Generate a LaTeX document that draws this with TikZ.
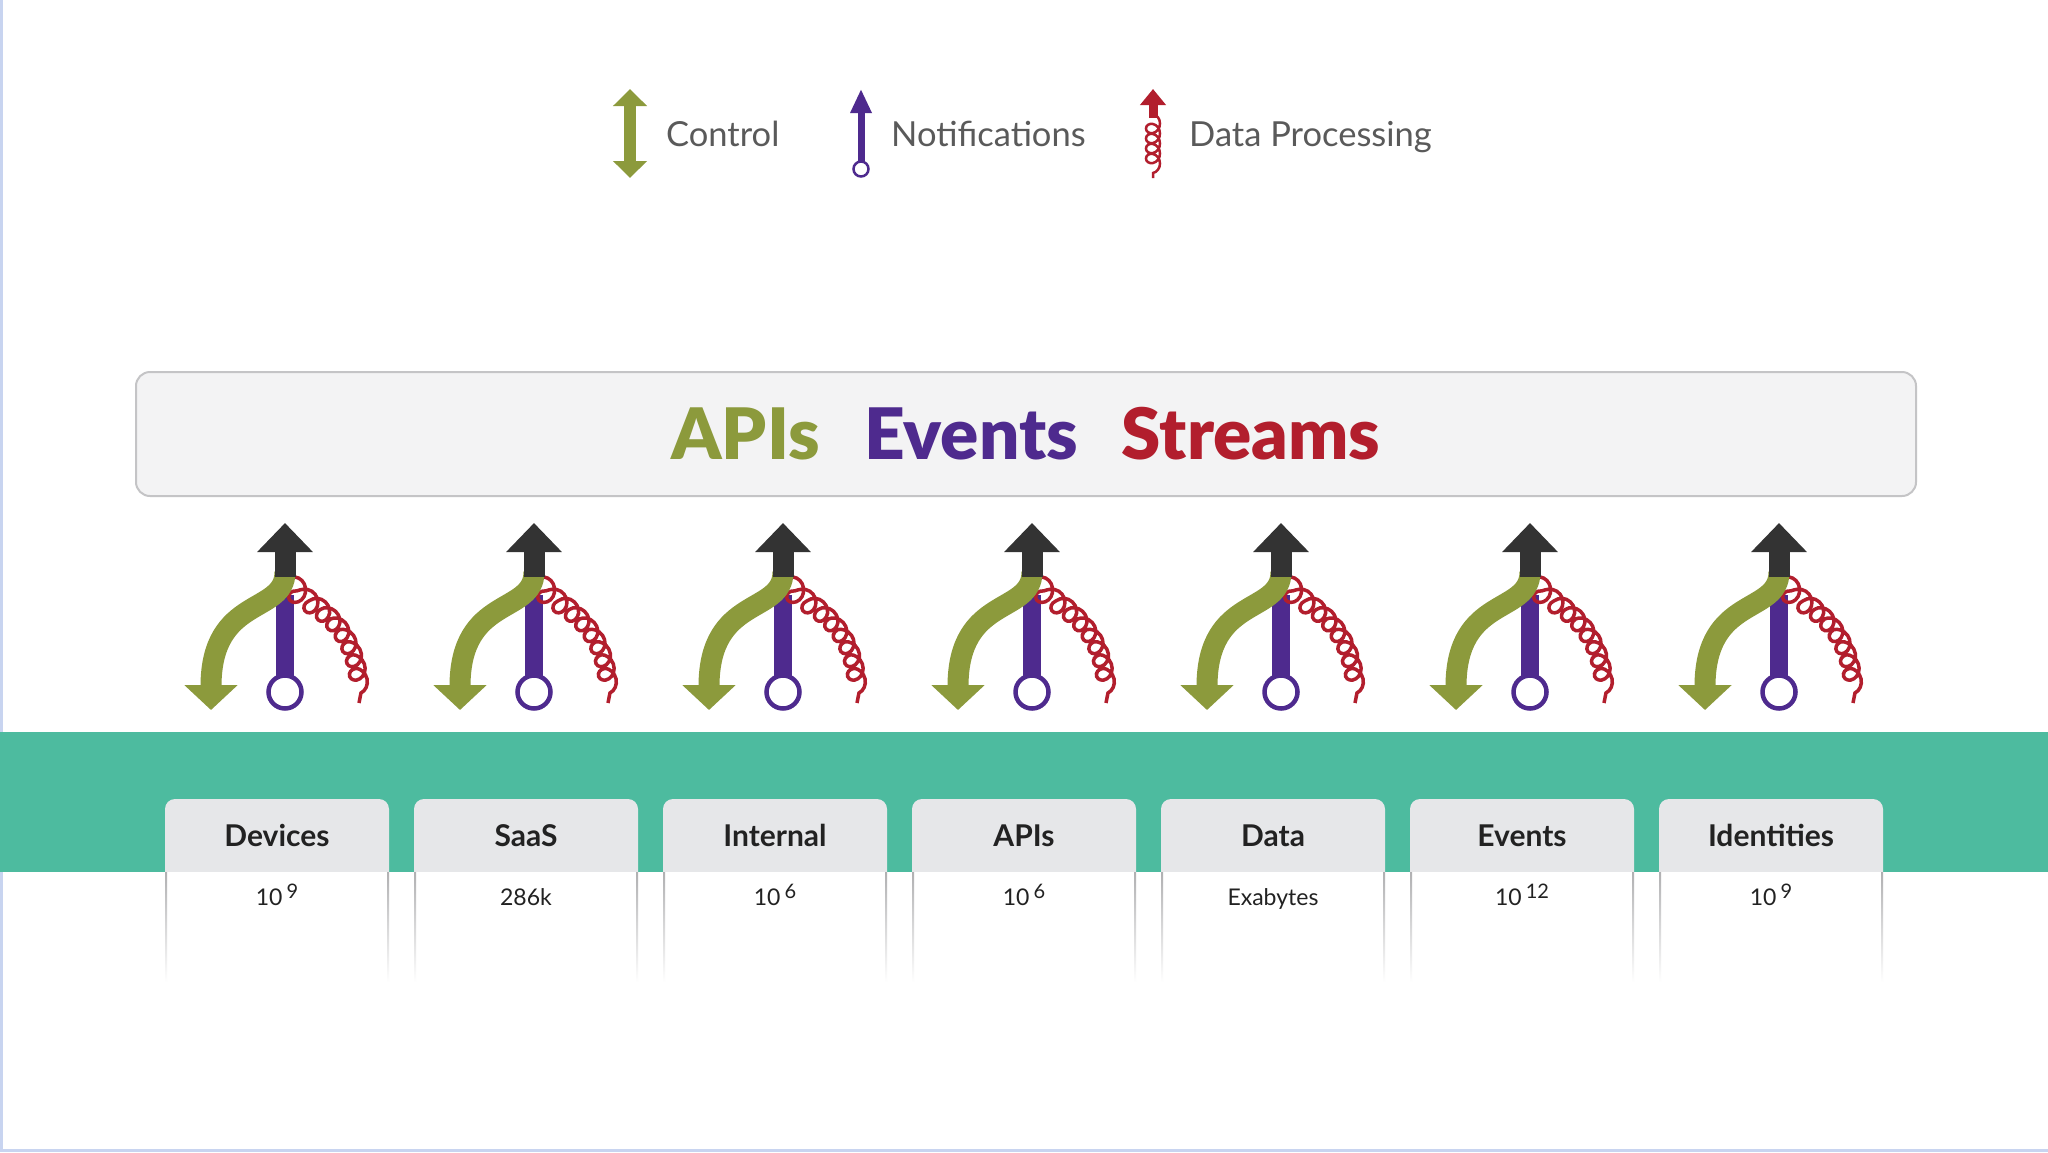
\documentclass[tikz,border=0pt]{standalone}
\usepackage{fontspec}
\setmainfont{Lato}
\newfontfamily\heavyfont{Lato Black}
\usetikzlibrary{positioning, arrows.meta, decorations.pathmorphing}

\definecolor{ctrl}{HTML}{8C9A3C}
\definecolor{notif}{HTML}{4E2A8E}
\definecolor{stream}{HTML}{B21E2D}
\definecolor{hub}{HTML}{333333}
\definecolor{band}{HTML}{4DBB9F}
\definecolor{cardgray}{HTML}{E6E7E9}
\definecolor{panel}{HTML}{F3F3F4}
\definecolor{rim}{HTML}{C4C4C6}
\definecolor{ink}{HTML}{222222}
\definecolor{muted}{HTML}{5A5A5A}
\definecolor{edge}{HTML}{C8D4F0}

\newcommand{\expo}[1]{\hspace{4pt}\raisebox{7pt}{\fontsize{20}{22}\selectfont #1}}

\begin{document}
\begin{tikzpicture}[
  x=1pt, y=-1pt,
  legend/.style={anchor=west, inner sep=0pt, text=muted, text height=24pt, text depth=0pt,
    font=\fontsize{34.5}{40}\selectfont},
  banner/.style={draw=rim, line width=2pt, fill=panel, rounded corners=14pt,
    minimum width=1780pt, minimum height=124pt, inner sep=0pt, text height=51pt, text depth=0pt,
    font=\heavyfont\fontsize{71}{84}\selectfont},
  cardhead/.style={fill=cardgray, rounded corners=10pt, minimum width=224pt, minimum height=83pt,
    inner sep=0pt, text=ink, text height=21pt, text depth=9pt, font=\bfseries\fontsize{30}{36}\selectfont},
  cardbody/.style={fill=white, minimum width=224pt, minimum height=110pt, inner sep=0pt,
    text=ink, text height=17pt, text depth=60pt, font=\fontsize{23}{28}\selectfont,
    path picture={
      \shade[top color=rim!90!black, bottom color=white] (path picture bounding box.north west)
        rectangle ([xshift=2pt]path picture bounding box.south west);
      \shade[top color=rim!90!black, bottom color=white] ([xshift=-2pt]path picture bounding box.north east)
        rectangle (path picture bounding box.south east);
    }},
  coiled/.style={decorate, decoration={coil, amplitude=#1, aspect=1, segment length=14pt}},
  glyph/.pic={
    \draw[notif, line width=18pt] (0,20) -- (0,101);
    \draw[notif, line width=4.5pt, fill=white] (0,117) circle (16.5pt);
    \draw[stream, line width=3.5pt, coiled=9pt] (10,2) .. controls (14,32) and (74,38) .. (74,128);
    \draw[ctrl, line width=21pt, -{Triangle[width=52pt,length=25pt]}] (0,-3) .. controls (0,40) and (-74,20) .. (-74,135);
    \draw[hub, line width=21pt, -{Triangle[width=54pt,length=29pt]}] (0,2) -- (0,-52);
  }
]

\useasboundingbox (0,0) rectangle (2048,1152);
\fill[white] (0,0) rectangle (2048,1152);
\fill[edge] (0,0) rectangle (2.5,1152);
\fill[edge] (0,1149) rectangle (2048,1152);

% legend
\draw[ctrl, line width=12pt, {Triangle[width=33pt,length=17pt]}-{Triangle[width=33pt,length=17pt]}] (630,89) -- (630,178);
\draw[notif, line width=7pt, -{Triangle[width=20pt,length=24pt]}] (861,161) -- (861,89);
\draw[notif, line width=2.5pt, fill=white] (861,169) circle (7.5pt);
\draw[stream, line width=9pt, -{Triangle[width=25pt,length=16pt]}] (1153,118) -- (1153,89);
\draw[stream, line width=2.5pt, decorate, decoration={coil, amplitude=7pt, aspect=1, segment length=10pt}] (1153,114) -- (1153,178);
\node[legend] (lctrl)  at (666,134)  {Control};
\node[legend] (lnotif) at (891,134)  {Notifications};
\node[legend] (lstrm)  at (1189,134) {Data Processing};

% the shared layer
\node[banner] (bus) at (1026,434) {\color{ctrl}APIs\hspace{44pt}\color{notif}Events\hspace{44pt}\color{stream}Streams};

% one glyph above each source
\pic (gdev) at (285,575)  {glyph};
\pic (gsaas) at (534,575) {glyph};
\pic (gint) at (783,575)  {glyph};
\pic (gapi) at (1032,575) {glyph};
\pic (gdat) at (1281,575) {glyph};
\pic (gevt) at (1530,575) {glyph};
\pic (gid) at (1779,575)  {glyph};

\fill[band] (0,732) rectangle (2048,872);

% 7 sources
\node[cardhead] (hdev)  at (277,840.5)  {Devices};
\node[cardhead] (hsaas) at (526,840.5)  {SaaS};
\node[cardhead] (hint)  at (775,840.5)  {Internal};
\node[cardhead] (hapi)  at (1024,840.5) {APIs};
\node[cardhead] (hdat)  at (1273,840.5) {Data};
\node[cardhead] (hevt)  at (1522,840.5) {Events};
\node[cardhead] (hid)   at (1771,840.5) {Identities};

\node[cardbody, below=-10pt of hdev]  (vdev)  {10\expo{9}};
\node[cardbody, below=-10pt of hsaas] (vsaas) {286k};
\node[cardbody, below=-10pt of hint]  (vint)  {10\expo{6}};
\node[cardbody, below=-10pt of hapi]  (vapi)  {10\expo{6}};
\node[cardbody, below=-10pt of hdat]  (vdat)  {Exabytes};
\node[cardbody, below=-10pt of hevt]  (vevt)  {10\expo{12}};
\node[cardbody, below=-10pt of hid]   (vid)   {10\expo{9}};

\end{tikzpicture}
\end{document}
